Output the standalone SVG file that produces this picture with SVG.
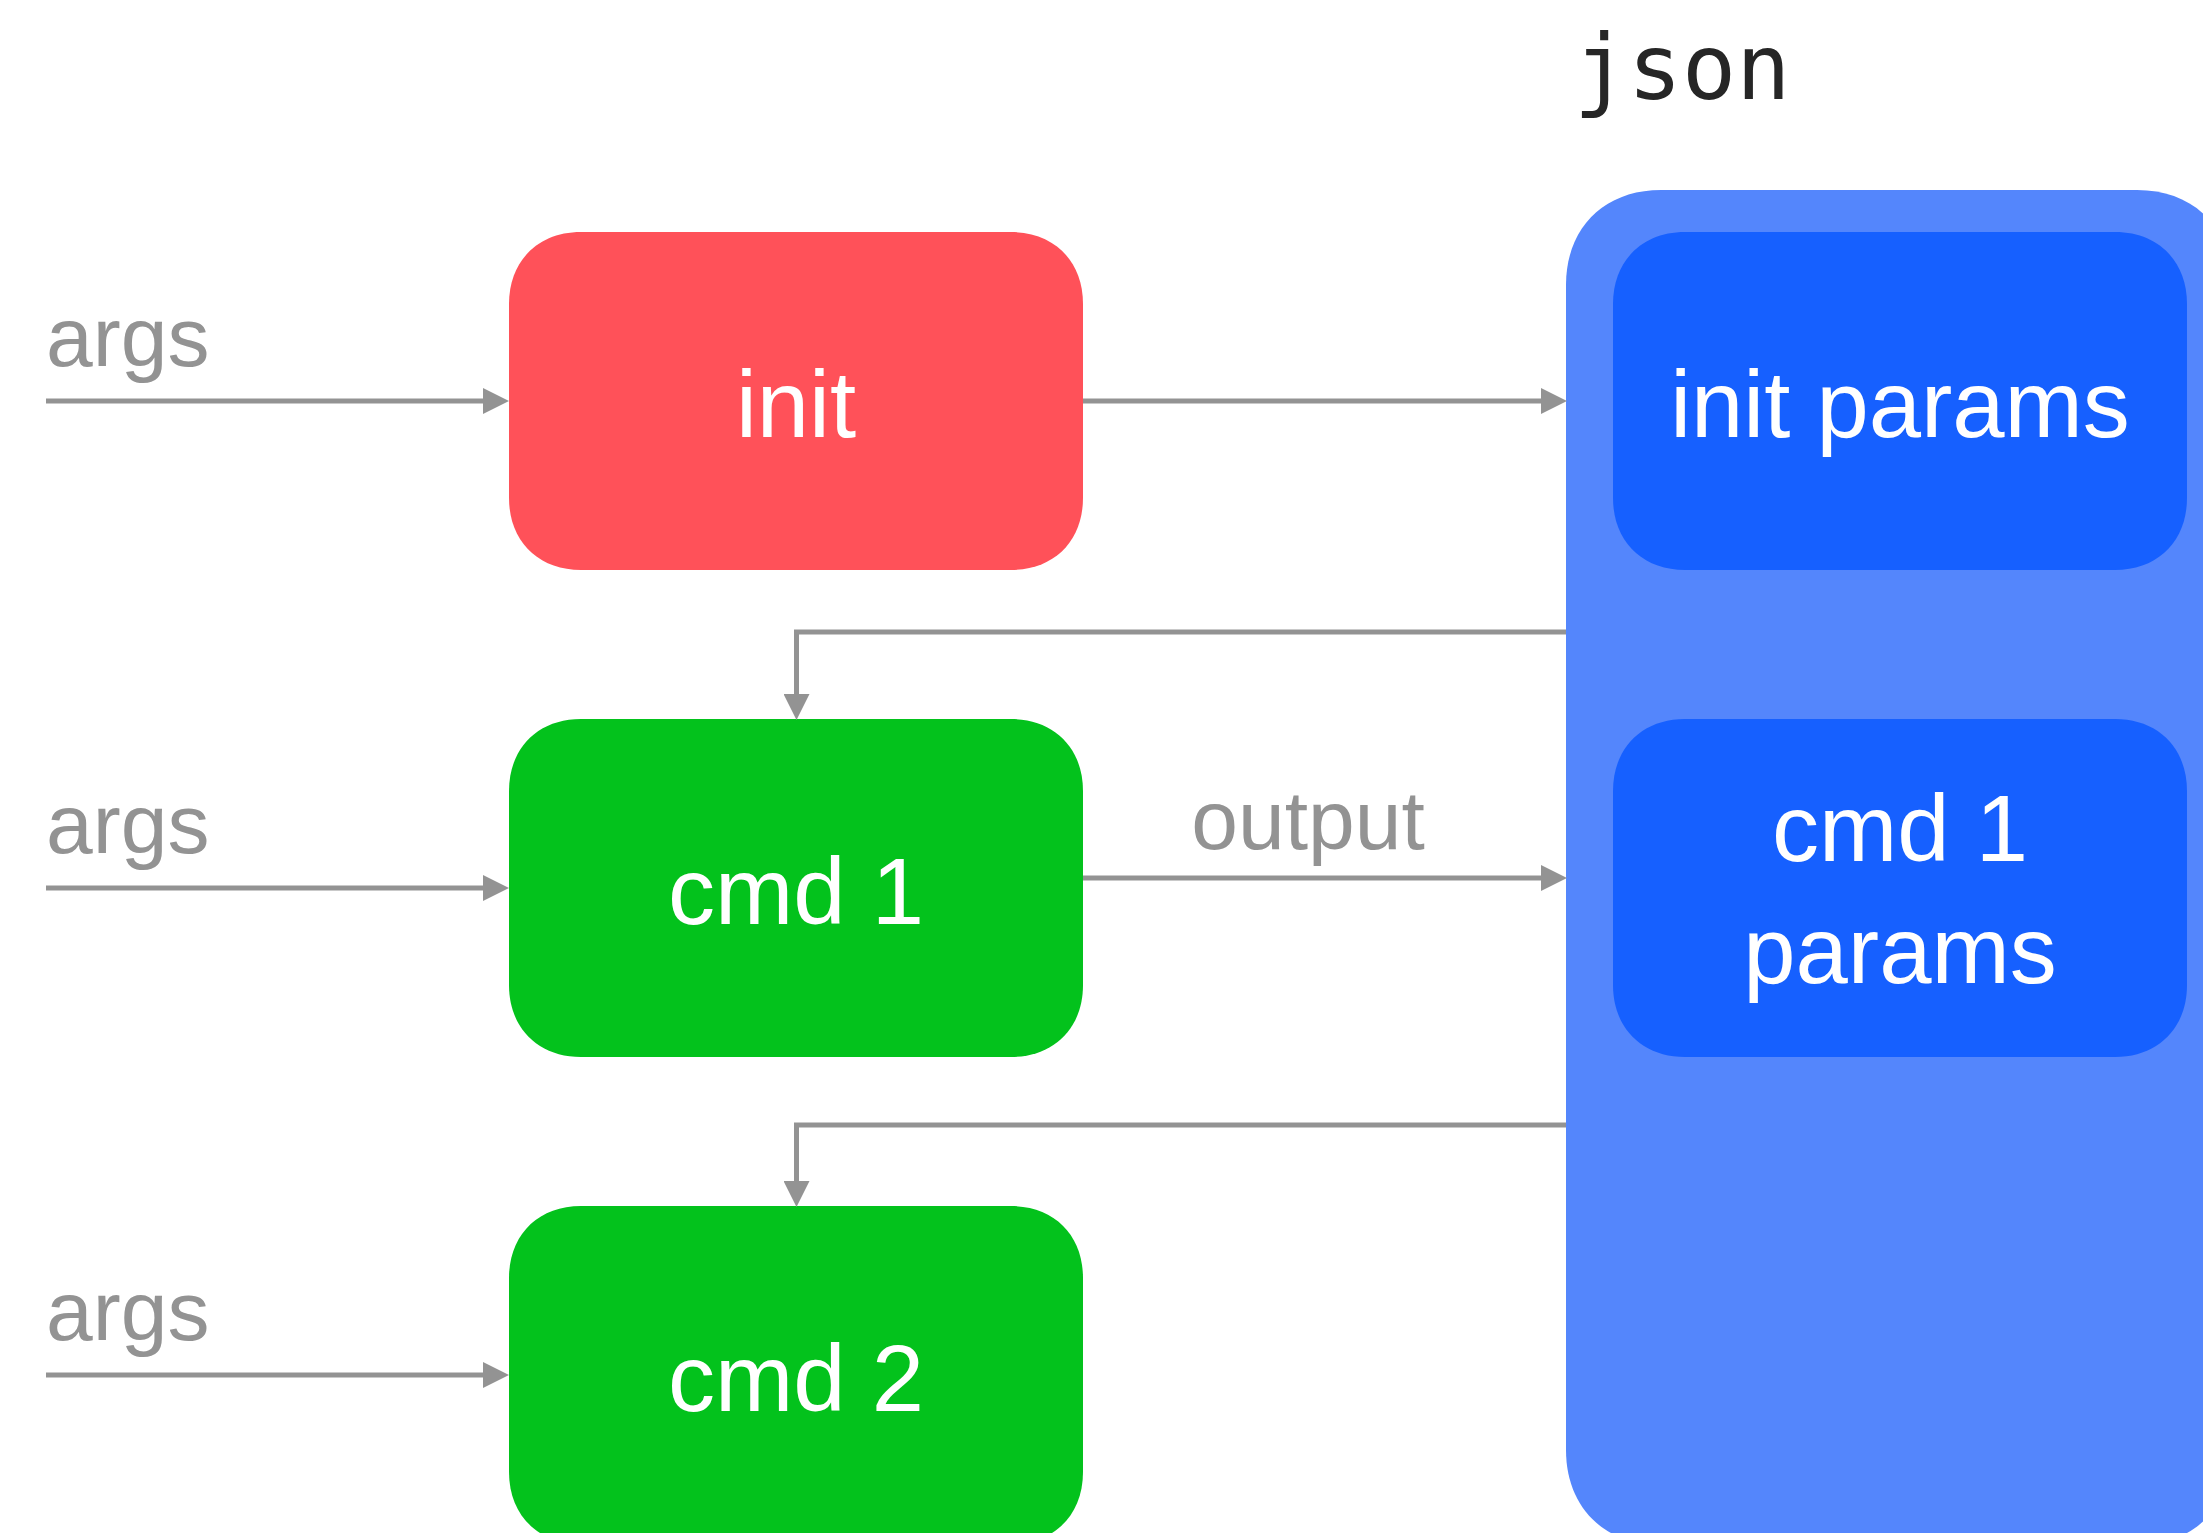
<svg xmlns="http://www.w3.org/2000/svg" width="2203" height="1533" viewBox="0 0 2203 1533">
<defs>
<style>
.lbl{font-family:"Liberation Sans",Arial,sans-serif;font-size:94px;fill:#ffffff;text-anchor:middle}
.edge{font-family:"Liberation Sans",Arial,sans-serif;font-size:84px;fill:#939393}
.conn{fill:none;stroke:#939393;stroke-width:5;marker-end:url(#ah)}
.red{fill:#FF5159}
.green{fill:#03C21C}
.blue{fill:#1660FF}
.cont{fill:#5486FC}
</style>
<marker id="ah" markerUnits="userSpaceOnUse" markerWidth="26" markerHeight="26" refX="15" refY="13" orient="auto">
<path d="M0,0 L26,13 L0,26 Z" fill="#939393"/>
</marker>
</defs>
<rect width="2203" height="1533" fill="#ffffff"/>

<g id="json">
<path class="cont" d="M1661,190 H2137 C2194,190 2232,228 2232,285 V1450 C2232,1507 2194,1545 2137,1545 H1661 C1604,1545 1566,1507 1566,1450 V285 C1566,228 1604,190 1661,190 Z"/>
<text x="1682" y="99" font-family="'DejaVu Sans Mono',monospace" font-size="90" fill="#262626" text-anchor="middle">json</text>
</g>

<g id="init">
<path class="red" d="M581,232 H1011 C1054,232 1083,261 1083,304 V498 C1083,541 1054,570 1011,570 H581 C538,570 509,541 509,498 V304 C509,261 538,232 581,232 Z"/>
<text class="lbl" x="796" y="437">init</text>
</g>

<g id="cmd1">
<path class="green" d="M581,719 H1011 C1054,719 1083,748 1083,791 V985 C1083,1028 1054,1057 1011,1057 H581 C538,1057 509,1028 509,985 V791 C509,748 538,719 581,719 Z"/>
<text class="lbl" x="796" y="924">cmd 1</text>
</g>

<g id="cmd2">
<path class="green" d="M581,1206 H1011 C1054,1206 1083,1235 1083,1278 V1472 C1083,1515 1054,1544 1011,1544 H581 C538,1544 509,1515 509,1472 V1278 C509,1235 538,1206 581,1206 Z"/>
<text class="lbl" x="796" y="1411">cmd 2</text>
</g>

<g id="init-params">
<path class="blue" d="M1685,232 H2115 C2158,232 2187,261 2187,304 V498 C2187,541 2158,570 2115,570 H1685 C1642,570 1613,541 1613,498 V304 C1613,261 1642,232 1685,232 Z"/>
<text class="lbl" x="1900" y="437">init params</text>
</g>

<g id="cmd1-params">
<path class="blue" d="M1685,719 H2115 C2158,719 2187,748 2187,791 V985 C2187,1028 2158,1057 2115,1057 H1685 C1642,1057 1613,1028 1613,985 V791 C1613,748 1642,719 1685,719 Z"/>
<text class="lbl" x="1900" y="861">cmd 1</text>
<text class="lbl" x="1900" y="983">params</text>
</g>

<g id="connectors">
<path class="conn" d="M46,401 H498"/>
<text class="edge" x="46" y="366">args</text>
<path class="conn" d="M46,888 H498"/>
<text class="edge" x="46" y="853">args</text>
<path class="conn" d="M46,1375 H498"/>
<text class="edge" x="46" y="1340">args</text>
<path class="conn" d="M1083,401 H1556"/>
<path class="conn" d="M1566,632 H796.5 V709"/>
<path class="conn" d="M1083,878 H1556"/>
<text class="edge" x="1308" y="849" text-anchor="middle">output</text>
<path class="conn" d="M1566,1125 H796.5 V1196"/>
</g>
</svg>
